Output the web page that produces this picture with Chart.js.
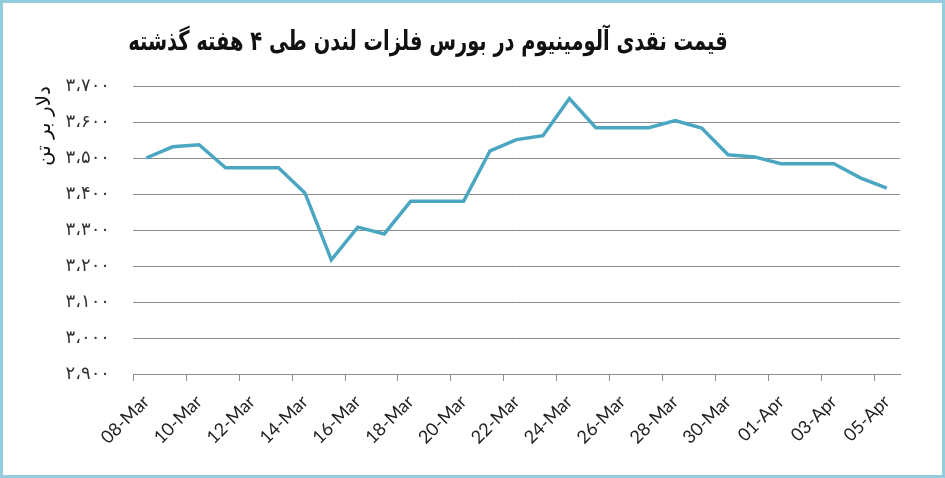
<!DOCTYPE html>
<html>
<head>
<meta charset="utf-8">
<script src="https://cdn.jsdelivr.net/npm/chart.js@4"></script>
<style>
  body { margin: 0; background: #fff; }
  #wrap { position: relative; width: 945px; height: 478px; overflow: hidden; }
  #wrap canvas { position: absolute; left: 0; top: 0; }
  #frame { position: absolute; left: 0; top: 0; width: 945px; height: 478px; box-sizing: border-box;
           border: 3px solid #93cddd; pointer-events: none; }
  #title { position: absolute; left: 0; top: 25px; width: 856px; text-align: center; direction: rtl;
           font-family: "DejaVu Sans Condensed", "DejaVu Sans"; font-weight: bold; font-size: 27px; color: #111;
           transform: scaleX(0.8); transform-origin: 428px 0; }
</style>
</head>
<body>
<div id="wrap">
  <canvas id="priceChart" width="945" height="478"></canvas>
  <div id="title">قیمت نقدی آلومینیوم در بورس فلزات لندن طی ۴ هفته گذشته</div>
  <div id="frame"></div>
</div>
<script>
const dates = ['08-Mar', '09-Mar', '10-Mar', '11-Mar', '12-Mar', '13-Mar', '14-Mar', '15-Mar',
  '16-Mar', '17-Mar', '18-Mar', '19-Mar', '20-Mar', '21-Mar', '22-Mar', '23-Mar', '24-Mar',
  '25-Mar', '26-Mar', '27-Mar', '28-Mar', '29-Mar', '30-Mar', '31-Mar', '01-Apr', '02-Apr',
  '03-Apr', '04-Apr', '05-Apr'];
const prices = [3500, 3531, 3537, 3473, 3473, 3473, 3403, 3217, 3308, 3289, 3380, 3380, 3380,
  3520, 3551, 3562, 3665, 3584, 3584, 3584, 3604, 3583, 3509, 3503, 3484, 3484, 3484, 3445, 3416];
const yTicks = [2900, 3000, 3100, 3200, 3300, 3400, 3500, 3600, 3700];
const yTickLabels = ['۲،۹۰۰', '۳،۰۰۰', '۳،۱۰۰', '۳،۲۰۰', '۳،۳۰۰', '۳،۴۰۰', '۳،۵۰۰', '۳،۶۰۰', '۳،۷۰۰'];
const yTitle = 'دلار بر تن';

// short tick marks on the category boundaries left of every labelled date
const boundaryTicks = {
  id: 'boundaryTicks',
  afterDraw(chart) {
    const s = chart.scales.x;
    const c = chart.ctx;
    c.save();
    c.strokeStyle = '#8c8c8c';
    c.lineWidth = 1;
    c.beginPath();
    for (let i = 0; i < dates.length; i += 2) {
      const x = Math.round(s.getPixelForValue(i - 0.5)) + 0.5;
      c.moveTo(x, s.top);
      c.lineTo(x, s.top + 7);
    }
    c.stroke();
    c.restore();
  }
};

const ctx = document.getElementById('priceChart').getContext('2d');
const chart = new Chart(ctx, {
  type: 'line',
  data: {
    labels: dates,
    datasets: [{
      label: 'Aluminium',
      data: prices,
      borderColor: '#4ba7c1',
      backgroundColor: '#4ba7c1',
      borderWidth: 3.5,
      pointRadius: 0,
      fill: false,
      tension: 0
    }]
  },
  options: {
    responsive: false,
    animation: false,
    layout: { padding: { top: 86, right: 45, left: 0, bottom: 0 } },
    plugins: { legend: { display: false }, tooltip: { enabled: false } },
    scales: {
      x: {
        type: 'category',
        offset: true,
        afterFit: s => { s.height = 104; },
        border: { display: true, color: '#8c8c8c', width: 1 },
        grid: {
          drawOnChartArea: false,
          drawTicks: true,
          tickLength: 7,
          color: 'rgba(0,0,0,0)'
        },
        ticks: {
          autoSkip: false,
          maxRotation: 45,
          minRotation: 45,
          padding: 10,
          color: '#222',
          font: { family: 'Lato', size: 18 },
          callback: (v, i) => (i % 2 === 0 ? dates[i] : null)
        }
      },
      y: {
        min: 2900,
        max: 3700,
        afterFit: s => { s.width = 133; },
        afterBuildTicks: s => { s.ticks = yTicks.map(v => ({ value: v })); },
        border: { display: false },
        grid: { color: '#8c8c8c', lineWidth: 1, drawTicks: false },
        ticks: {
          padding: 23,
          color: '#333',
          font: { family: 'DejaVu Sans', size: 18 },
          callback: v => yTickLabels[yTicks.indexOf(v)]
        },
        title: {
          display: true,
          text: yTitle,
          align: 'end',
          color: '#111',
          font: { family: 'DejaVu Sans', size: 20 },
          padding: { top: 33, bottom: 0 }
        }
      }
    }
  },
  plugins: [boundaryTicks]
});
</script>
</body>
</html>
